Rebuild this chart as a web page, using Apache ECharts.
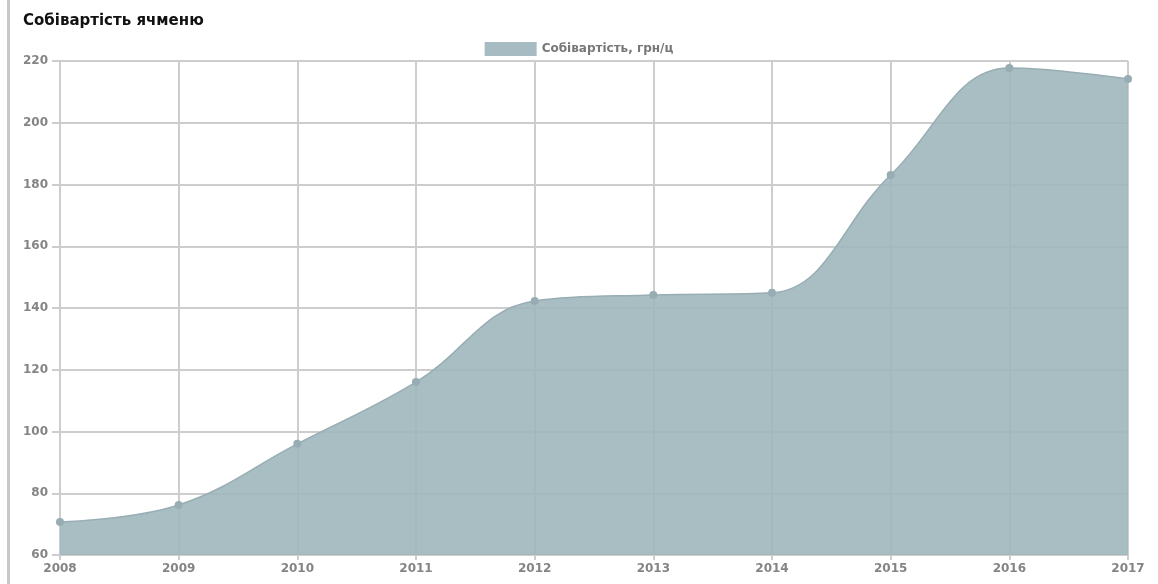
<!DOCTYPE html>
<html>
<head>
<meta charset="utf-8">
<script src="https://cdn.jsdelivr.net/npm/echarts@6/dist/echarts.min.js"></script>
<style>
html,body{margin:0;padding:0;background:#fff;}
#bar{position:absolute;left:7px;top:0;width:3px;height:584px;background:#c8c8c8;}
#chart{position:absolute;left:0;top:0;width:1158px;height:584px;}
</style>
</head>
<body>
<div id="bar"></div>
<div id="chart"></div>
<script>
const titleText = 'Собівартість ячменю';
const seriesName = 'Собівартість, грн/ц';
const years = ['2008','2009','2010','2011','2012','2013','2014','2015','2016','2017'];
const costs = [70.7, 76.2, 96, 116, 142.3, 144.2, 144.9, 183.1, 217.7, 214.2];
const yMin = 60, yMax = 220, yStep = 20;

const chart = echarts.init(document.getElementById('chart'), null, {renderer:'canvas'});
const gridColor = '#cdcdcd';
const font = 'DejaVu Sans, Verdana, sans-serif';
chart.setOption({
  animation:false,
  title:{
    text:titleText, left:18, top:9,
    textStyle:{fontFamily:font, fontSize:15, fontWeight:'bold', color:'#111'}
  },
  legend:{
    data:[{name:seriesName, itemStyle:{color:'#a6bcc2'}}], top:37, left:'center',
    itemWidth:52, itemHeight:14, itemGap:7,
    icon:'rect',
    textStyle:{fontFamily:font, fontSize:12, color:'#777', fontWeight:'bold'}
  },
  grid:{left:60, right:30, top:61, bottom:29, containLabel:false},
  xAxis:{
    type:'category', data:years, boundaryGap:false,
    axisLine:{show:true, lineStyle:{color:gridColor, width:2}},
    axisTick:{show:true, length:5, lineStyle:{color:gridColor, width:2}},
    splitLine:{show:true, lineStyle:{color:gridColor, width:2}},
    axisLabel:{fontFamily:font, fontSize:12, fontWeight:'bold', color:'#848484', margin:8}
  },
  yAxis:{
    type:'value', min:yMin, max:yMax, interval:yStep,
    axisLine:{show:true, lineStyle:{color:gridColor, width:2}},
    axisTick:{show:true, length:8, lineStyle:{color:gridColor, width:2}},
    splitLine:{show:true, lineStyle:{color:gridColor, width:2}},
    axisLabel:{fontFamily:font, fontSize:12, fontWeight:'bold', color:'#848484', margin:12}
  },
  series:[{
    name:seriesName, type:'line', data:costs, smooth:0.4,
    symbol:'circle', symbolSize:8,
    itemStyle:{color:'#98adb3', borderWidth:0},
    lineStyle:{color:'#98aeb4', width:1.5},
    areaStyle:{color:'#9fb7bd', opacity:0.9, origin:'start'},
    z:3
  }]
});
</script>
</body>
</html>
